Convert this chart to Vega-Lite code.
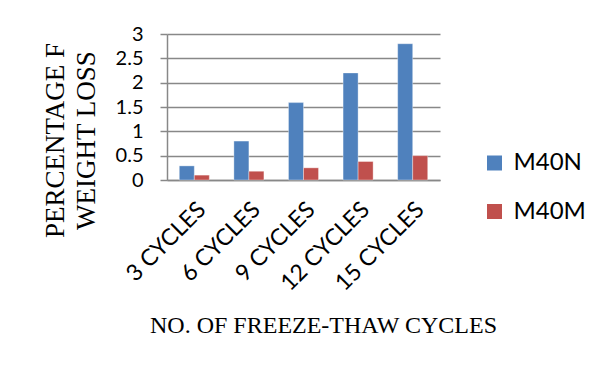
{
  "$schema": "https://vega.github.io/schema/vega-lite/v6.json",
  "autosize": {"type": "none"},
  "padding": {"left": 167, "top": 34, "right": 157, "bottom": 186},
  "width": 273,
  "height": 146,
  "background": "white",
  "data": {
    "values": [
      {"cycles": "3 CYCLES", "series": "M40N", "loss": 0.29},
      {"cycles": "3 CYCLES", "series": "M40M", "loss": 0.1},
      {"cycles": "6 CYCLES", "series": "M40N", "loss": 0.8},
      {"cycles": "6 CYCLES", "series": "M40M", "loss": 0.18},
      {"cycles": "9 CYCLES", "series": "M40N", "loss": 1.59},
      {"cycles": "9 CYCLES", "series": "M40M", "loss": 0.25},
      {"cycles": "12 CYCLES", "series": "M40N", "loss": 2.2},
      {"cycles": "12 CYCLES", "series": "M40M", "loss": 0.38},
      {"cycles": "15 CYCLES", "series": "M40N", "loss": 2.8},
      {"cycles": "15 CYCLES", "series": "M40M", "loss": 0.5}
    ]
  },
  "mark": {"type": "bar", "stroke": "white", "strokeOpacity": 0.35, "strokeWidth": 1},
  "encoding": {
    "x": {
      "field": "cycles",
      "type": "nominal",
      "sort": ["3 CYCLES", "6 CYCLES", "9 CYCLES", "12 CYCLES", "15 CYCLES"],
      "scale": {"paddingInner": 0.45, "paddingOuter": 0.225},
      "axis": {
        "title": "NO. OF FREEZE-THAW CYCLES",
        "titleFont": "Liberation Serif",
        "titleFontSize": 24,
        "titleFontWeight": "normal",
        "titleColor": "black",
        "titleAlign": "center",
        "titleBaseline": "alphabetic",
        "titleX": 156,
        "titleY": 152,
        "labelAngle": -45,
        "labelFont": "Lato",
        "labelFontSize": 23,
        "labelColor": "black",
        "labelPadding": 18,
        "ticks": false,
        "domainColor": "#888888",
        "domainWidth": 1.5,
        "grid": false
      }
    },
    "xOffset": {
      "field": "series",
      "type": "nominal",
      "sort": ["M40N", "M40M"],
      "scale": {"paddingInner": 0, "paddingOuter": 0}
    },
    "y": {
      "field": "loss",
      "type": "quantitative",
      "scale": {"domain": [0, 3], "nice": false},
      "axis": {
        "values": [0, 0.5, 1, 1.5, 2, 2.5, 3],
        "format": "~g",
        "title": ["PERCENTAGE F", "WEIGHT LOSS"],
        "titleFont": "Liberation Serif",
        "titleFontSize": 27,
        "titleFontWeight": "normal",
        "titleColor": "black",
        "titleAngle": -90,
        "titleAlign": "center",
        "titleBaseline": "top",
        "titleLineHeight": 31,
        "titleX": -125,
        "titleY": 106,
        "labelFont": "Lato",
        "labelFontSize": 20,
        "labelColor": "black",
        "labelPadding": 17,
        "tickSize": 7,
        "tickColor": "#888888",
        "tickWidth": 1.5,
        "domainColor": "#888888",
        "domainWidth": 1.5,
        "gridColor": "#888888",
        "gridWidth": 1.5
      }
    },
    "color": {
      "field": "series",
      "type": "nominal",
      "sort": ["M40N", "M40M"],
      "scale": {"domain": ["M40N", "M40M"], "range": ["#4F81BD", "#C0504D"]},
      "legend": {
        "title": null,
        "orient": "none",
        "legendX": 315.5,
        "legendY": 117,
        "padding": 0,
        "symbolType": "square",
        "symbolSize": 225,
        "symbolStrokeWidth": 0,
        "symbolOpacity": 1,
        "labelFont": "Lato",
        "labelFontSize": 24,
        "labelColor": "black",
        "labelOffset": 7,
        "rowPadding": 24.5
      }
    }
  },
  "config": {"view": {"stroke": null}}
}
